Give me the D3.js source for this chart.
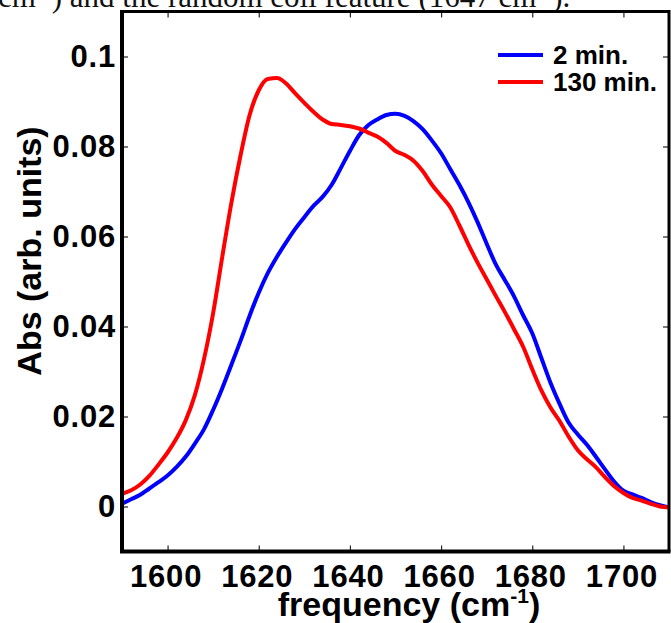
<!DOCTYPE html>
<html>
<head>
<meta charset="utf-8">
<script src="https://cdn.jsdelivr.net/npm/d3@7"></script>
<style>
  body { margin: 0; background: #fff; }
  svg { display: block; }
  .tick text { font-family: "Liberation Sans", Arial, sans-serif; font-weight: bold; fill: #000; }
  .tick line { stroke: #222; stroke-width: 1.2; }
</style>
</head>
<body>
<div id="chart"></div>
<script>
// frequency grid (cm-1) and absorbance of both spectra
var frequency = [1590, 1592, 1594, 1596, 1598, 1600, 1602, 1604, 1606, 1608,
                 1610, 1612, 1614, 1616, 1618, 1620, 1622, 1624, 1626, 1628,
                 1630, 1632, 1634, 1636, 1638, 1640, 1642, 1644, 1646, 1648,
                 1650, 1652, 1654, 1656, 1658, 1660, 1662, 1664, 1666, 1668,
                 1670, 1672, 1674, 1676, 1678, 1680, 1682, 1684, 1686, 1688,
                 1690, 1692, 1694, 1696, 1698, 1700, 1702, 1704, 1706, 1708, 1710];

var abs2min = [0.0006, 0.0016, 0.0026, 0.0040, 0.0054, 0.0069, 0.0088, 0.0111, 0.0140, 0.0172,
               0.0215, 0.0263, 0.0315, 0.0368, 0.0424, 0.0475, 0.0519, 0.0555, 0.0587, 0.0617,
               0.0643, 0.0668, 0.0688, 0.0715, 0.0752, 0.0790, 0.0825, 0.0847, 0.0860, 0.0870,
               0.0873, 0.0868, 0.0856, 0.0838, 0.0813, 0.0785, 0.0750, 0.0715, 0.0676, 0.0632,
               0.0584, 0.0538, 0.0503, 0.0467, 0.0425, 0.0385, 0.0330, 0.0275, 0.0228, 0.0186,
               0.0160, 0.0137, 0.0110, 0.0082, 0.0055, 0.0035, 0.0027, 0.0019, 0.0010, 0.0003, -0.0002];

var abs130min = [0.0028, 0.0036, 0.0049, 0.0068, 0.0093, 0.0120, 0.0152, 0.0192, 0.0248, 0.0328,
                 0.0430, 0.0555, 0.0675, 0.0780, 0.0870, 0.0925, 0.0950, 0.0952, 0.0940, 0.0918,
                 0.0897, 0.0877, 0.0860, 0.0850, 0.0848, 0.0845, 0.0840, 0.0831, 0.0822, 0.0808,
                 0.0790, 0.0781, 0.0768, 0.0745, 0.0715, 0.0690, 0.0665, 0.0625, 0.0582, 0.0542,
                 0.0505, 0.0468, 0.0432, 0.0394, 0.0355, 0.0305, 0.0258, 0.0220, 0.0190, 0.0155,
                 0.0125, 0.0105, 0.0087, 0.0065, 0.0045, 0.0030, 0.0019, 0.0013, 0.0006, 0.0000, -0.0002];

var seriesNames = ["2 min.", "130 min."];
var seriesColors = ["#0000ff", "#ff0000"];

var xTicks = [1600, 1620, 1640, 1660, 1680, 1700];
var yTicks = [0, 0.02, 0.04, 0.06, 0.08, 0.1];
var yTickLabels = ["0", "0.02", "0.04", "0.06", "0.08", "0.1"];

var width = 671, height = 623;
var margin = {top: 11.5, right: 2, bottom: 71.5, left: 122};

var svg = d3.select("#chart").append("svg")
    .attr("width", width)
    .attr("height", height);

// caption line of the page the figure was cut from (only its lower part shows)
svg.append("text")
    .attr("x", -2)
    .attr("y", 7)
    .style("font-family", "'Liberation Serif', 'Times New Roman', serif")
    .style("font-size", "31px")
    .style("fill", "#111")
    .html("cm<tspan dy='-11' font-size='19'>-1</tspan><tspan dy='11'>) and the random coil feature (1647 cm</tspan><tspan dy='-11' font-size='19'>-1</tspan><tspan dy='11'>).</tspan>");

var x = d3.scaleLinear()
    .domain([1590, 1710])
    .range([margin.left, width - margin.right]);

var y = d3.scaleLinear()
    .domain([-0.01, 0.11])
    .range([height - margin.bottom, margin.top]);

// white plot background so the caption does not bleed into the box
svg.append("rect")
    .attr("x", x(1590))
    .attr("y", y(0.11))
    .attr("width", x(1710) - x(1590))
    .attr("height", y(-0.01) - y(0.11))
    .style("fill", "#fff");

// axes, ticks pointing inward on all four sides
var xAxis = svg.append("g")
    .attr("transform", "translate(0," + y(-0.01) + ")")
    .call(d3.axisBottom(x).tickValues(xTicks).tickFormat(d3.format("d"))
        .tickSizeInner(-6).tickSizeOuter(0).tickPadding(13));
xAxis.selectAll("text")
    .attr("dx", "-2")
    .style("font-size", "31px")
    .style("letter-spacing", "0.8px");

var yAxis = svg.append("g")
    .attr("transform", "translate(" + x(1590) + ",0)")
    .call(d3.axisLeft(y).tickValues(yTicks)
        .tickFormat(function(d, i) { return yTickLabels[i]; })
        .tickSizeInner(-6).tickSizeOuter(0).tickPadding(6));
yAxis.selectAll("text")
    .style("font-size", "31px")
    .style("letter-spacing", "0.8px");

svg.append("g")
    .attr("transform", "translate(0," + y(0.11) + ")")
    .call(d3.axisTop(x).tickValues(xTicks).tickFormat("").tickSizeInner(-6).tickSizeOuter(0));

svg.append("g")
    .attr("transform", "translate(" + x(1710) + ",0)")
    .call(d3.axisRight(y).tickValues(yTicks).tickFormat("").tickSizeInner(-6).tickSizeOuter(0));

svg.selectAll(".domain").remove();

// spectra
var line = d3.line()
    .x(function(d) { return x(d[0]); })
    .y(function(d) { return y(d[1]); })
    .curve(d3.curveMonotoneX);

[abs2min, abs130min].forEach(function(vals, i) {
    svg.append("path")
        .datum(frequency.map(function(f, j) { return [f, vals[j]]; }))
        .attr("d", line)
        .style("fill", "none")
        .style("stroke", seriesColors[i])
        .style("stroke-width", 4)
        .style("stroke-linejoin", "round");
});

// frame: heavy left and bottom, lighter top and right
svg.append("path")
    .attr("d", "M" + x(1590) + "," + y(0.11) + "H" + x(1710) + "V" + y(-0.01))
    .style("fill", "none")
    .style("stroke", "#000")
    .style("stroke-width", 3);
svg.append("path")
    .attr("d", "M" + x(1590) + "," + (y(0.11) - 1.5) + "V" + y(-0.01) + "H" + (x(1710) + 1.5))
    .style("fill", "none")
    .style("stroke", "#000")
    .style("stroke-width", 4);

// legend
var legend = svg.append("g");
seriesNames.forEach(function(name, i) {
    var ly = 55 + i * 27;
    legend.append("line")
        .attr("x1", 498).attr("x2", 543)
        .attr("y1", ly).attr("y2", ly)
        .style("stroke", seriesColors[i])
        .style("stroke-width", 4);
    legend.append("text")
        .attr("x", 553)
        .attr("y", ly + 8.5)
        .style("font-family", "'Liberation Sans', Arial, sans-serif")
        .style("font-weight", "bold")
        .style("font-size", "26px")
        .text(name);
});

// axis titles
svg.append("text")
    .attr("x", 409)
    .attr("y", 616)
    .attr("text-anchor", "middle")
    .style("font-family", "'Liberation Sans', Arial, sans-serif")
    .style("font-weight", "bold")
    .style("font-size", "34px")
    .html("frequency (cm<tspan dy='-13' font-size='21'>-1</tspan><tspan dy='13'>)</tspan>");

svg.append("text")
    .attr("transform", "translate(41," + 251 + ") rotate(-90)")
    .attr("text-anchor", "middle")
    .style("font-family", "'Liberation Sans', Arial, sans-serif")
    .style("font-weight", "bold")
    .style("font-size", "34px")
    .text("Abs (arb. units)");
</script>
</body>
</html>
